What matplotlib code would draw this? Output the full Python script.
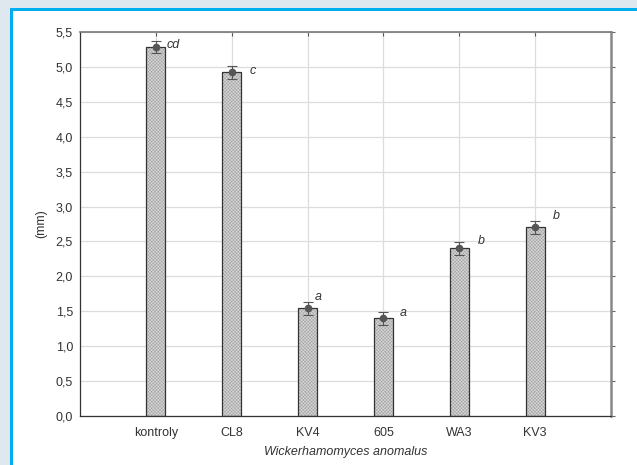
import numpy as np
import matplotlib.pyplot as plt
from matplotlib.patches import Rectangle

plt.rcParams['font.family'] = ['Liberation Sans', 'DejaVu Sans']

strains = ["kontroly", "CL8", "KV4", "605", "WA3", "KV3"]
means = [5.28, 4.92, 1.54, 1.40, 2.40, 2.70]
errors = [0.085, 0.09, 0.09, 0.09, 0.09, 0.09]
groups = ["cd", "c", "a", "a", "b", "b"]

fig = plt.figure(figsize=(6.37, 4.65), dpi=100)

# page frame: grey margin, blue border, white panel
fig.patches.append(Rectangle((0, 0), 1, 1, transform=fig.transFigure,
                             facecolor="#dfe8ee", edgecolor="none", zorder=-3))
fig.patches.append(Rectangle((10 / 637, 0), 1, 1 - 8 / 465, transform=fig.transFigure,
                             facecolor="#00aeef", edgecolor="none", zorder=-2))
fig.patches.append(Rectangle((13 / 637, 0), 1, 1 - 11 / 465, transform=fig.transFigure,
                             facecolor="white", edgecolor="none", zorder=-1))

ax = fig.add_axes([80 / 637, 1 - 416 / 465, 531 / 637, 384 / 465])
x = np.arange(len(strains))

plt.rcParams['hatch.linewidth'] = 0.35
ax.bar(x, means, width=0.25, color="#d6d6d6", edgecolor="#a0a0a0",
       hatch="xxxxxxxxxx", linewidth=0, zorder=2)
ax.bar(x, means, width=0.25, fill=False, edgecolor="#333333", linewidth=0.9, zorder=3)
ax.errorbar(x, means, yerr=errors, fmt="o", color="#555555", markersize=4.5,
            ecolor="#555555", elinewidth=0.8, capsize=3.3, capthick=0.8, zorder=4)

# letters of homogeneous groups
offsets = [(8, 2), (13, 1), (5, 8), (12, 4), (13, 5), (13, 8)]
for xi, m, g, off in zip(x, means, groups, offsets):
    ax.annotate(g, (xi, m), xytext=off, textcoords="offset points",
                fontsize=9, style="italic", color="#333333", va="center")

ax.set_xlim(-1, 6)
ax.set_ylim(0, 5.5)
ax.set_yticks(np.arange(0, 5.51, 0.5))
ax.set_yticklabels([f"{v:.1f}".replace(".", ",") for v in np.arange(0, 5.51, 0.5)])
ax.set_xticks(x)
ax.set_xticklabels(strains)
ax.grid(True, color="#dddddd", linewidth=0.9, zorder=0)
ax.set_axisbelow(True)

ax.tick_params(axis="x", direction="in", top=True, length=3, color="#555555",
               labelsize=9, labelcolor="#333333", pad=8)
ax.tick_params(axis="y", left=False, right=True, direction="out", length=3,
               color="#666666", labelsize=9, labelcolor="#333333", pad=2)

for side in ["left", "bottom"]:
    ax.spines[side].set_color("#333333")
    ax.spines[side].set_linewidth(0.9)
ax.spines["top"].set_color("#777777")
ax.spines["top"].set_linewidth(1.2)
ax.spines["right"].set_color("#888888")
ax.spines["right"].set_linewidth(1.8)

ax.set_ylabel("(mm)", fontsize=9, color="#333333", labelpad=6)
ax.set_xlabel("Wickerhamomyces anomalus", fontsize=9, style="italic",
              color="#333333", labelpad=5)

fig.savefig("out.png", dpi=100)
